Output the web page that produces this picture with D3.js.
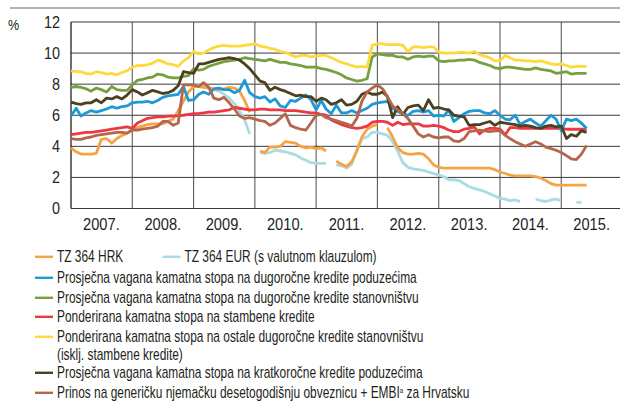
<!DOCTYPE html>
<html>
<head>
<meta charset="utf-8">
<script src="https://cdn.jsdelivr.net/npm/d3@7"></script>
<style>
  body { margin: 0; background: #fff; }
  svg text { font-family: "Liberation Sans", Arial, sans-serif; fill: #231f20; }
</style>
</head>
<body>
<script>
//monthly observations, January 2007 to June 2015
var startYear = 2007;

var yTicks = [0, 2, 4, 6, 8, 10, 12];
var yearLabels = ["2007.", "2008.", "2009.", "2010.", "2011.", "2012.", "2013.", "2014.", "2015."];

//TZ 364 HRK
var tzHrk = [
    3.9, 3.65, 3.5, 3.5, 3.5, 3.55, 4.45, 4.5, 4.2, 4.5, 4.7, 4.85,
    5.05, 5.2, 5.3, 5.4, 5.45, 5.45, 5.45, 5.6, 5.75, 6.3, 6.9, 7.5,
    7.85, 7.85, 7.8, 7.75, 7.7, 7.65, 7.7, 7.8, 7.75, 7.55, 6.95, 6.2,
    null, 3.7, 3.6, 3.95, 3.95, 4.0, 4.3, 4.25, 4.2, 4.0, 3.9, 3.95,
    3.85, 3.9, 3.7, null, 3.05, 2.85, 2.7, 3.0, 3.7, 4.6, 5.1, 5.3,
    5.4, null, 5.2, 4.6, 3.9, 3.6, 3.5, 3.5, 3.55, 3.5, 3.2, 2.8,
    2.65, 2.6, 2.6, 2.6, 2.6, 2.6, 2.6, 2.6, 2.6, 2.6, 2.6, 2.5,
    2.35, 2.25, 2.15, 2.1, 2.1, 2.1, 2.1, 2.05, 1.95, 1.8, 1.6, 1.5,
    1.5, 1.5, 1.5, 1.5, 1.5, 1.5
];

//TZ 364 EUR (s valutnom klauzulom)
var tzEur = [
    null, null, null, null, null, null, null, null, null, null, null, null,
    null, null, null, null, null, null, null, null, null, null, null, null,
    7.95, 7.9, 7.9, 7.8, 7.65, 7.55, 7.35, 7.1, 6.75, 6.3, 5.7, 4.8,
    null, 3.6, 3.55, 3.6, 3.75, 3.7, 3.65, 3.55, 3.45, 3.25, 3.1, 2.95,
    2.9, 2.9, 2.9, null, 2.8, 2.75, 2.6, 2.85, 3.8, 4.5, 4.6, 4.9,
    4.9, 4.8, 4.7, 4.3, 3.7, 2.95, 2.65, 2.55, 2.5, 2.45, 2.35, 2.25,
    2.15, 2.05, 1.85, 1.85, 1.8, 1.6, 1.4, 1.3, 1.2, 1.1, 0.95, 0.8,
    0.65, 0.6, 0.5, 0.55, 0.45, null, null, 0.6, 0.5, 0.45, 0.55, 0.6,
    0.5, null, null, 0.4, 0.4, null
];

//long-term loans to enterprises
var ltEnterprises = [
    5.95, 6.45, 5.95, 6.15, 6.3, 6.2, 6.3, 6.4, 6.55, 6.45, 6.55, 6.6,
    6.8, 6.85, 6.85, 6.9, 6.8, 6.95, 7.15, 7.25, 7.3, 7.35, 7.85, 6.95,
    7.0, 7.35, 7.5, 7.35, 7.7, 7.75, 7.65, 7.65, 7.45, 7.6, 8.25, 7.45,
    7.2, 7.1, 7.2, 6.85, 7.05, 6.6, 6.5, 6.95, 6.9, 7.1, 7.3, 7.0,
    6.35, 6.95, 6.4, 6.1, 6.65, 6.15, 6.15, 6.3, 6.15, 6.3, 6.45, 6.7,
    6.8, 6.85, 6.9, 6.45, 6.25, 6.1, 6.0, 6.25, 6.3, 6.2, 6.3, 5.95,
    6.0, 5.95, 6.35, 5.6, 5.85, 6.1, 6.25, 6.3, 6.3, 6.15, 6.1, 6.3,
    6.0, 5.75, 5.7, 6.0, 5.4, 5.6, 5.75, 5.5, 5.3, 5.65, 6.0, 5.75,
    5.0, 5.75, 5.65, 5.75, 5.5, 5.15
];

//long-term loans to households
var ltHouseholds = [
    7.8, 7.85, 7.8, 7.7, 7.55, 7.75, 7.65, 7.5, 7.85, 7.65, 7.6, 7.6,
    7.95, 8.25, 8.3, 8.4, 8.45, 8.65, 8.6, 8.45, 8.4, 8.4, 8.5, 8.55,
    9.0, 8.9, 8.95, 9.15, 9.25, 9.35, 9.45, 9.5, 9.55, 9.6, 9.7, 9.65,
    9.6, 9.55, 9.5, 9.6, 9.5, 9.4, 9.4, 9.3, 9.25, 9.2, 9.1, 9.1,
    9.1, 9.0, 8.95, 8.85, 8.75, 8.6, 8.4, 8.3, 8.2, 8.25, 8.35, 9.75,
    9.95, 9.9, 9.85, 9.85, 9.75, 9.75, 9.6, 9.75, 9.8, 9.75, 9.8, 9.8,
    9.5, 9.45, 9.5, 9.5, 9.55, 9.55, 9.6, 9.55, 9.4, 9.3, 9.2, 9.05,
    9.0, 9.1, 9.1, 9.05, 9.0, 8.95, 8.95, 9.05, 8.95, 8.9, 8.85, 8.7,
    8.75, 8.8, 8.65, 8.7, 8.7, 8.7
];

//housing loans
var housing = [
    4.75, 4.8, 4.85, 4.9, 4.9, 4.95, 5.0, 5.05, 5.1, 5.15, 5.2, 5.25,
    5.15, 5.5, 5.65, 5.8, 5.85, 5.9, 5.9, 5.95, 5.95, 5.97, 6.0, 6.05,
    6.1, 6.12, 6.15, 6.2, 6.2, 6.25, 6.3, 6.35, 6.5, 6.45, 6.4, 6.35,
    6.35, 6.4, 6.4, 6.35, 6.35, 6.35, 6.3, 6.3, 6.3, 6.25, 6.2, 6.15,
    6.15, 6.05, 6.0, 5.7, 5.55, 5.4, 5.3, 5.2, 5.15, 5.2, 5.3, 5.55,
    5.6, 5.6, 5.55, 5.35, 5.55, 5.4, 5.45, 5.45, 5.45, 5.3, 5.3, 5.35,
    5.3, 5.2, 5.05, 4.95, 4.95, 5.1, 5.15, 5.25, 4.8, 5.05, 5.15, 5.15,
    5.1, 4.75, 5.2, 5.2, 5.15, 5.15, 5.15, 5.15, 5.15, 5.15, 5.15, 5.15,
    5.15, 5.1, 5.1, 5.1, 5.1, 5.1
];

//other long-term household loans
var otherHousehold = [
    8.85, 8.8, 8.8, 8.7, 8.65, 8.8, 8.75, 8.65, 8.7, 8.6, 8.75, 8.85,
    9.1, 9.2, 9.2, 9.25, 9.35, 9.55, 9.45, 9.3, 9.25, 9.15, 9.5, 9.7,
    10.1, 9.95, 10.0, 10.2, 10.35, 10.45, 10.5, 10.45, 10.45, 10.45, 10.5, 10.55,
    10.6, 10.45, 10.4, 10.3, 10.25, 10.1, 10.05, 9.9, 9.75, 9.85, 9.85, 9.75,
    9.8, 9.85, 9.85, 9.7, 9.55, 9.4, 9.3, 9.2, 9.1, 9.15, 9.1, 10.5,
    10.6, 10.6, 10.55, 10.55, 10.55, 10.5, 10.1, 10.4, 10.4, 10.35, 10.4, 10.4,
    10.05, 10.0, 10.0, 10.0, 10.05, 10.05, 10.0, 10.1, 9.9, 9.8, 9.7, 9.5,
    9.5, 9.85, 9.7, 9.55, 9.55, 9.5, 9.5, 9.45, 9.5, 9.4, 9.3, 9.25,
    9.3, 9.2, 9.1, 9.15, 9.15, 9.15
];

//short-term loans to enterprises
var stEnterprises = [
    6.85, 6.75, 6.7, 6.8, 6.8, 7.0, 6.8, 7.1, 7.05, 7.2, 7.05, 7.3,
    7.65, 7.5, 7.3, 7.45, 7.6, 7.5, 7.4, 7.45, 7.6, 7.9, 8.8, 8.75,
    8.7, 9.3, 9.3, 9.4, 9.5, 9.6, 9.65, 9.7, 9.65, 9.55, 9.3, 9.0,
    8.6, 8.2, 8.1, 7.6, 7.8, 7.65, 7.55, 7.4, 7.25, 7.3, 7.2, 7.2,
    6.9, 7.1, 7.0, 6.7, 6.8, 7.0, 6.65, 6.7, 6.9, 7.35, 7.5, 7.35,
    7.35, 7.5, 7.2, 5.85, 6.55, 6.05, 6.5, 6.6, 6.65, 6.3, 7.0, 6.45,
    6.5, 6.4, 6.35, 6.0, 5.95, 5.9, 5.35, 5.4, 5.4, 5.5, 5.6, 5.35,
    5.55, 5.5, 5.45, 5.4, 5.3, 5.35, 5.3, 5.2, 5.15, 5.3, 5.35, 5.25,
    5.3, 4.5, 4.75, 4.65, 5.0, 4.9
];

//German 10y bund + EMBI for Croatia
var bundEmbi = [
    4.5, 4.45, 4.45, 4.55, 4.6, 4.7, 4.75, 4.8, 4.85, 4.9, 4.9, 4.85,
    5.05, 5.05, 5.1, 5.15, 5.2, 5.3, 5.6, 5.6, 5.35, 5.5, 7.95, 7.95,
    7.95, 7.85, 8.1, 7.8, 7.1, 7.0, 7.15, 6.8, 6.4, 5.95, 5.8, 5.85,
    5.75, 5.65, 5.6, 5.35, 5.5, 5.8, 6.1, 5.35, 5.2, 5.1, 5.05, 5.5,
    6.0, 6.05, 5.85, 5.75, 5.65, 5.55, 5.45, 5.3, 5.8, 6.9, 7.5, 7.75,
    7.95, 7.7, 7.2, 6.6, 6.35, 6.1, 5.8, 5.3, 4.8, 4.6, 4.75, 4.6,
    4.55, 4.6, 4.6, 4.35, 4.3, 4.5, 4.95, 5.0, 5.05, 5.0, 4.95, 5.0,
    5.0, 4.7, 4.5, 4.3, 4.15, 4.0, 4.15, 4.3, 4.15, 3.95, 3.85, 3.75,
    3.6, 3.4, 3.2, 3.15, 3.5, 4.05
];

var seriesNames = [
    "TZ 364 HRK",
    "TZ 364 EUR (s valutnom klauzulom)",
    "Prosječna vagana kamatna stopa na dugoročne kredite poduzećima",
    "Prosječna vagana kamatna stopa na dugoročne kredite stanovništvu",
    "Ponderirana kamatna stopa na stambene kredite",
    "Ponderirana kamatna stopa na ostale dugoročne kredite stanovništvu",
    "Prosječna vagana kamatna stopa na kratkoročne kredite poduzećima",
    "Prinos na generičku njemačku desetogodišnju obveznicu + EMBI"
];
var seriesColors = ["#f8a343", "#a8dce3", "#1d9ad6", "#76a03d", "#ec3843", "#ffd93c", "#4b4120", "#b5664b"];

window.onload = function(){

    var w = 620,
        h = 401;

    var svg = d3.select("body")
        .append("svg")
        .attr("width", w)
        .attr("height", h);

    var series = [tzHrk, tzEur, ltEnterprises, ltHouseholds, housing, otherHousehold, stEnterprises, bundEmbi];

    //x scale: one point per month
    var x = d3.scaleTime()
        .domain([new Date(2007, 0, 1), new Date(2016, 0, 1)])
        .range([71, 622.5]);

    var y = d3.scaleLinear()
        .domain([0, 12])
        .range([208.5, 22]);

    var monthDate = function(i){
        return new Date(startYear, i, 1);
    };

    //condensed look: squeeze text horizontally
    var squeeze = function(sx){
        return function(d, i){
            var t = d3.select(this);
            var px = +t.attr("data-x"), py = +t.attr("data-y");
            return "translate(" + px + "," + py + ") scale(" + sx + ",1)";
        };
    };

    //grey rule on top
    svg.append("line")
        .attr("x1", 10).attr("x2", 620)
        .attr("y1", 8).attr("y2", 8)
        .style("stroke", "#9a9a9a")
        .style("stroke-width", 1.3);

    //horizontal grid
    svg.append("g")
        .selectAll("line")
        .data(yTicks)
        .enter()
        .append("line")
        .attr("x1", x.range()[0])
        .attr("x2", 620)
        .attr("y1", function(d){ return y(d); })
        .attr("y2", function(d){ return y(d); })
        .style("stroke", "#3a3a3a")
        .style("stroke-width", 1);

    //vertical year separators
    var yearStarts = d3.range(2008, 2016).map(function(yr){ return new Date(yr, 0, 1); });
    svg.append("g")
        .selectAll("line")
        .data(yearStarts)
        .enter()
        .append("line")
        .attr("x1", function(d){ return x(d); })
        .attr("x2", function(d){ return x(d); })
        .attr("y1", y(12))
        .attr("y2", y(0))
        .style("stroke", "#4a4a4a")
        .style("stroke-width", 1);

    //y axis line
    svg.append("line")
        .attr("x1", 71).attr("x2", 71)
        .attr("y1", y(12)).attr("y2", y(0))
        .style("stroke", "#231f20")
        .style("stroke-width", 1.3);

    //y tick labels
    svg.append("g")
        .selectAll("text")
        .data(yTicks)
        .enter()
        .append("text")
        .attr("data-x", 60)
        .attr("data-y", function(d){ return y(d) + 5.8; })
        .attr("transform", squeeze(0.9))
        .attr("text-anchor", "end")
        .style("font-size", "16px")
        .text(function(d){ return d; });

    svg.append("text")
        .attr("data-x", 8)
        .attr("data-y", 30)
        .attr("transform", squeeze(0.9))
        .style("font-size", "14px")
        .text("%");

    //year labels centred in each year
    svg.append("g")
        .selectAll("text")
        .data(yearLabels)
        .enter()
        .append("text")
        .attr("data-x", function(d, i){ return x(new Date(startYear + i, 6, 1)); })
        .attr("data-y", 230)
        .attr("transform", squeeze(0.9))
        .attr("text-anchor", "middle")
        .style("font-size", "16.3px")
        .text(function(d){ return d; });

    //series lines
    var line = d3.line()
        .defined(function(d){ return d != null; })
        .x(function(d, i){ return x(monthDate(i)); })
        .y(function(d){ return y(d); });

    var drawOrder = [1, 0, 4, 2, 3, 5, 6, 7];
    svg.append("g")
        .selectAll("path")
        .data(drawOrder)
        .enter()
        .append("path")
        .attr("d", function(k){ return line(series[k]); })
        .style("fill", "none")
        .style("stroke", function(k){ return seriesColors[k]; })
        .style("stroke-width", 2.8)
        .style("stroke-linejoin", "round");

    //legend
    var legendRows = [
        {k: 0, x: 35, y: 256.8},
        {k: 1, x: 162.5, y: 256.8},
        {k: 2, x: 35, y: 277.8},
        {k: 3, x: 35, y: 297.8},
        {k: 4, x: 35, y: 316.8},
        {k: 5, x: 35, y: 336.8},
        {k: 6, x: 35, y: 372.8},
        {k: 7, x: 35, y: 392.8}
    ];

    var legend = svg.append("g")
        .selectAll("g")
        .data(legendRows)
        .enter()
        .append("g");

    legend.append("line")
        .attr("x1", function(d){ return d.x; })
        .attr("x2", function(d){ return d.x + 18; })
        .attr("y1", function(d){ return d.y; })
        .attr("y2", function(d){ return d.y; })
        .style("stroke", function(d){ return seriesColors[d.k]; })
        .style("stroke-width", 2.4);

    var legendText = legend.append("text")
        .attr("data-x", function(d){ return d.x + 22; })
        .attr("data-y", function(d){ return d.y + 5.6; })
        .attr("transform", squeeze(0.755))
        .style("font-size", "15.8px")
        .text(function(d){ return seriesNames[d.k]; });

    //superscript on the last item
    legendText.filter(function(d){ return d.k == 7; })
        .append("tspan")
        .attr("dy", -5)
        .style("font-size", "8px")
        .text("a");
    legendText.filter(function(d){ return d.k == 7; })
        .append("tspan")
        .attr("dy", 5)
        .text(" za Hrvatsku");

    //second line of the yellow item
    svg.append("text")
        .attr("data-x", 57)
        .attr("data-y", 360.2)
        .attr("transform", squeeze(0.755))
        .style("font-size", "15.8px")
        .text("(isklj. stambene kredite)");
};
</script>
</body>
</html>
